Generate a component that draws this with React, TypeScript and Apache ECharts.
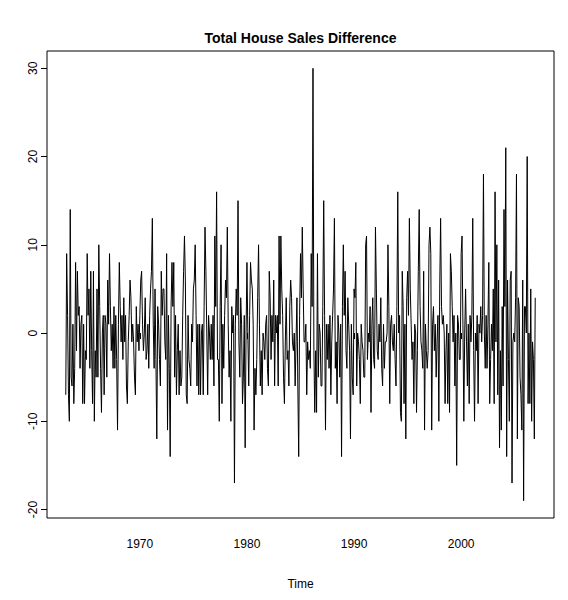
import React, { useEffect, useRef } from "react";
import * as echarts from "echarts";

// Monthly differences of total house sales, first value is Feb 1963.
const START_YEAR = 1963;
const START_MONTH = 2;

const diff1963to1969 = [
  -7, 9, 2, -7, -10, 14, -5, -6, 1, -8, -4,
  8, -2, 7, 2, 3, -4, 1, 2, -8, 1, -8, -2,
  -3, 9, 2, 5, -4, 7, -2, -8, 7, -10, -2, -5,
  5, -5, 10, 3, -4, -9, 0, 2, -7, 2, 1, -5,
  6, 1, 9, 3, -2, 1, -4, 3, -4, 2, -3, -11,
  1, 8, 3, -1, 2, -3, 4, -1, 2, -6, -8, -1,
  2, 6, 4, -1, 1, -1, -5, -7, 3, -1, 1, -2,
];

const diff1970s = [
  2, 6, 7, 1, -2, 0, 4, -3, -2, 1, -4, 2,
  5, 7, 13, 1, -4, 5, -3, -12, 3, 1, -3, -6,
  7, 2, 5, 5, -1, -3, 9, -11, 2, -4, -14, 3,
  8, 3, 8, -5, 2, -7, -2, 1, -7, -2, -6, -5,
  2, 7, 11, 6, -7, -8, 2, -3, -4, -6, 1, -1,
  5, 6, 10, 2, -6, 1, -7, 1, -7, 0, 1, -7,
  3, 12, 7, 0, -7, 2, 0, -3, 1, -3, 2, -6,
  11, 3, 16, -3, -3, -10, 3, 10, -8, 1, -4, 2,
  6, 4, 12, 1, -5, -2, -10, 3, 0, 2, -17, 1,
  5, 2, 15, -1, -5, 4, 1, -8, -5, 2, -13, 0,
];

const diff1980s = [
  8, 0, -6, 2, 8, 6, 5, 1, -11, -4, -7, -3,
  4, 10, 1, -6, -2, -7, 0, -1, -3, 1, 2, -4,
  -6, 7, 4, -3, 2, -1, 6, -6, 2, 0, 2, -6,
  11, 1, 11, 5, 2, -5, -8, -1, 4, -3, -2, -6,
  3, 6, 4, -1, -2, 0, -6, -1, 4, -6, -14, 2,
  9, 4, 12, 5, -1, -1, 1, -7, -1, -3, -2, -4,
  9, 3, 30, -2, -9, -2, -9, 9, -5, 1, 0, -6,
  -6, 3, 15, 2, -11, 1, -3, 1, -4, 2, -7, -1,
  2, 5, 13, -4, -1, -8, 2, 0, -5, 1, -14, 3,
  10, 2, 7, -2, -4, 4, 1, -2, -12, 1, -5, -7,
];

const diff1990s = [
  5, 4, 8, -6, 0, -1, -3, -8, 1, -1, -2, -5,
  -5, 10, 11, -3, 0, -1, 3, -9, 1, 4, -3, -4,
  12, 5, -2, -3, 1, -1, 4, -4, -6, 1, -4, -1,
  -1, 0, 10, 3, -8, 1, 2, -1, -2, 1, -3, -6,
  3, 16, 0, 2, -9, -10, 7, 3, -8, 1, -12, 4,
  7, 2, 13, 5, 1, -3, -1, -8, 1, 0, -9, -2,
  7, 14, 3, -1, -2, -4, 7, -11, 1, -2, -4, -2,
  10, 12, 9, -11, 1, 3, -2, 1, -5, -1, 2, -10,
  5, 13, 3, 1, 2, 0, -8, -2, 1, -8, 0, -9,
  9, 7, 3, -1, 2, -6, 0, -15, 2, 1, -3, -3,
];

const diff2000s = [
  9, 11, 1, -10, 0, 5, -1, -6, 1, -8, 2, -1,
  2, 13, -2, -10, 0, -2, 2, -8, 1, 0, 3, -1,
  2, 18, 0, -4, 2, -4, 1, 8, -8, -3, 1, -2,
  5, -8, 16, -1, 10, -7, 6, -13, -2, -11, 3, -6,
  14, 3, 21, -14, 6, -3, -10, 6, 7, -17, -1, 0,
  -1, 4, 18, -12, 4, 3, -5, -7, -11, 6, -19, 3,
  3, 0, 20, -8, 0, -8, 5, -10, -1, -3, -12, 4,
];

const xTicks = [1970, 1980, 1990, 2000];
const yTicks = [-20, -10, 0, 10, 20, 30];

const TITLE = "Total House Sales Difference";
const X_NAME = "Time";
const FONT = "'Liberation Sans', Arial, Helvetica, sans-serif";

// R-style axis range: data range padded by 4% on each side
function paddedRange(lo: number, hi: number): [number, number] {
  const pad = (hi - lo) * 0.04;
  return [lo - pad, hi + pad];
}

export default function App() {
  const ref = useRef<HTMLDivElement>(null);

  useEffect(() => {
    if (!ref.current) return;
    const chart = echarts.init(ref.current, null, { renderer: "svg" });

    const values = [
      ...diff1963to1969,
      ...diff1970s,
      ...diff1980s,
      ...diff1990s,
      ...diff2000s,
    ];
    const points = values.map((v, i) => [
      START_YEAR + (START_MONTH - 1 + i) / 12,
      v,
    ]);
    const times = points.map((p) => p[0]);
    const [xMin, xMax] = paddedRange(times[0], times[times.length - 1]);
    const [yMin, yMax] = paddedRange(Math.min(...values), Math.max(...values));

    const grid = { left: 47, right: 14, top: 51, bottom: 82 };
    const plotCenterX = grid.left + (568 - grid.left - grid.right) / 2;

    chart.setOption({
      animation: false,
      backgroundColor: "#ffffff",
      grid: {
        ...grid,
        show: true,
        borderColor: "#000000",
        borderWidth: 1,
        backgroundColor: "transparent",
      },
      graphic: [
        {
          type: "text",
          x: plotCenterX,
          y: 38,
          style: {
            text: TITLE,
            textAlign: "center",
            textVerticalAlign: "middle",
            font: `bold 14px ${FONT}`,
            fill: "#000000",
          },
        },
      ],
      xAxis: {
        type: "value",
        min: xMin,
        max: xMax,
        name: X_NAME,
        nameLocation: "middle",
        nameGap: 60,
        nameTextStyle: { color: "#000", fontSize: 12, fontFamily: FONT },
        axisLine: { show: false },
        splitLine: { show: false },
        axisTick: {
          show: true,
          customValues: xTicks,
          length: 6,
          lineStyle: { color: "#000", width: 1 },
        },
        axisLabel: {
          customValues: xTicks,
          formatter: (v: number) => String(Math.round(v)),
          color: "#000",
          fontSize: 12,
          fontFamily: FONT,
          margin: 20,
        },
      },
      yAxis: {
        type: "value",
        min: yMin,
        max: yMax,
        axisLine: { show: false },
        splitLine: { show: false },
        axisTick: {
          show: true,
          customValues: yTicks,
          length: 6,
          lineStyle: { color: "#000", width: 1 },
        },
        axisLabel: {
          customValues: yTicks,
          formatter: (v: number) => String(Math.round(v)),
          rotate: 90,
          color: "#000",
          fontSize: 12,
          fontFamily: FONT,
          margin: 8,
        },
      },
      series: [
        {
          type: "line",
          data: points,
          showSymbol: false,
          symbol: "none",
          lineStyle: { color: "#000000", width: 1 },
          itemStyle: { color: "#000000" },
        },
      ],
    });

    return () => chart.dispose();
  }, []);

  return (
    <div
      ref={ref}
      style={{
        position: "fixed",
        left: 0,
        top: 0,
        width: 568,
        height: 600,
        background: "#ffffff",
      }}
    />
  );
}
